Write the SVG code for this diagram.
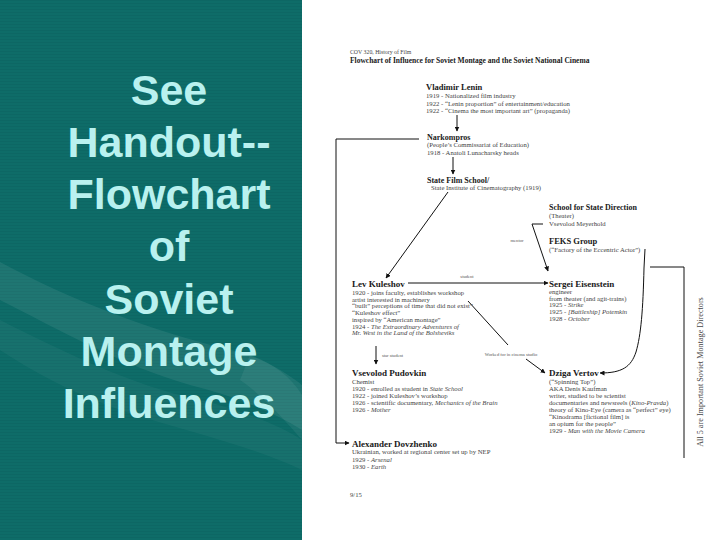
<svg xmlns="http://www.w3.org/2000/svg" width="720" height="540" viewBox="0 0 720 540">
<defs>
<pattern id="stripes" width="4" height="3" patternUnits="userSpaceOnUse">
<rect width="4" height="1" fill="#0a5f5b" opacity="0.35"/>
</pattern>
<marker id="ah" viewBox="0 0 10 10" refX="9" refY="5" markerWidth="5" markerHeight="5" orient="auto" markerUnits="userSpaceOnUse">
<path d="M0,0 L10,5 L0,10 z" fill="#111"/>
</marker>
<style>
.ttl{font-family:"Liberation Sans",Arial,sans-serif;font-weight:bold;font-size:43px;fill:#b9f1ef;text-anchor:middle}
.t{font-family:"Liberation Serif","Times New Roman",serif;font-size:6.7px;fill:#444}
.b{font-family:"Liberation Serif","Times New Roman",serif;font-weight:bold;fill:#1a1a1a}
.s{font-family:"Liberation Serif","Times New Roman",serif;font-size:4.6px;fill:#555}
.i{font-style:italic}
.ln{stroke:#111;stroke-width:1;fill:none}
</style>
</defs>
<rect x="0" y="0" width="720" height="540" fill="#ffffff"/>
<rect x="0" y="0" width="302" height="540" fill="#0e6c68"/>
<rect x="0" y="0" width="302" height="540" fill="url(#stripes)"/>
<path d="M0,262 C70,300 150,330 230,350 C260,356 285,372 302,385 L302,430 C270,410 230,395 190,385 C120,365 60,330 0,300 z" fill="#ffffff" opacity="0.07"/>
<path d="M250,355 C270,362 290,375 302,395 L302,440 C285,420 262,395 240,380 z" fill="#ffffff" opacity="0.06"/>
<path d="M0,320 C60,350 130,385 200,400 C240,410 280,425 302,440 L302,470 C250,445 180,430 120,410 C70,392 30,370 0,350 z" fill="#ffffff" opacity="0.04"/>
<g id="title">
<text class="ttl" x="169" y="104.5">See</text>
<text class="ttl" x="169" y="156.8">Handout--</text>
<text class="ttl" x="169" y="209.1">Flowchart</text>
<text class="ttl" x="169" y="261.4">of</text>
<text class="ttl" x="169" y="313.7">Soviet</text>
<text class="ttl" x="169" y="366">Montage</text>
<text class="ttl" x="169" y="418.3">Influences</text>
</g>
<g id="connectors">
<line class="ln" x1="457" y1="115" x2="457" y2="131" marker-end="url(#ah)"/>
<line class="ln" x1="453" y1="157" x2="453" y2="174" marker-end="url(#ah)"/>
<line class="ln" x1="448" y1="192" x2="386" y2="278" marker-end="url(#ah)"/>
<polyline class="ln" points="419,139 336,139 336,443 349,443" marker-end="url(#ah)"/>
<line class="ln" x1="408" y1="283" x2="548" y2="283" stroke-width="1.8" marker-end="url(#ah)"/>
<text class="s" x="467" y="277.5" text-anchor="middle">student</text>
<polyline class="ln" points="543,224 532,224 548,271" marker-end="url(#ah)"/>
<text class="s" x="517" y="242" text-anchor="middle">mentor</text>
<path class="ln" d="M645,249 L644,268 C643,310 641,335 636,352 C631,367 622,373 600,373" marker-end="url(#ah)"/>
<line class="ln" x1="468" y1="301" x2="508" y2="345"/>
<line class="ln" x1="526" y1="359" x2="545" y2="373" marker-end="url(#ah)"/>
<text class="s" x="511" y="355.5" text-anchor="middle">Worked for in cinema studio</text>
<line class="ln" x1="376" y1="346" x2="376" y2="364" marker-end="url(#ah)"/>
<text class="s" x="382" y="357">star student</text>
<polyline class="ln" points="650,267 684,267 684,458"/>
</g>
<g id="header">
<text class="t" x="350" y="54" style="font-size:5.8px">COV 320, History of Film</text>
<text class="b" x="350" y="63" style="font-size:7.5px">Flowchart of Influence for Soviet Montage and the Soviet National Cinema</text>
</g>
<g id="node-lenin">
<text class="b" x="426" y="90" style="font-size:8.5px">Vladimir Lenin</text>
<text class="t" x="426" y="98">1919 - Nationalized film industry</text>
<text class="t" x="426" y="105.5">1922 - “Lenin proportion” of entertainment/education</text>
<text class="t" x="426" y="113">1922 - “Cinema the most important art” (propaganda)</text>
</g>
<g id="node-narkompros">
<text class="b" x="427" y="139.5" style="font-size:8px">Narkompros</text>
<text class="t" x="427" y="147">(People’s Commissariat of Education)</text>
<text class="t" x="427" y="154.5">1918 - Anatoli Lunacharsky heads</text>
</g>
<g id="node-school">
<text class="b" x="427" y="182.5" style="font-size:8px">State Film School/</text>
<text class="t" x="431" y="189.5">State Institute of Cinematography (1919)</text>
</g>
<g id="node-direction">
<text class="b" x="549" y="209.5" style="font-size:8px">School for State Direction</text>
<text class="t" x="549" y="218">(Theater)</text>
<text class="t" x="549" y="225.5">Vsevolod Meyerhold</text>
</g>
<g id="node-feks">
<text class="b" x="549" y="244" style="font-size:8.5px">FEKS Group</text>
<text class="t" x="549" y="251.5">(“Factory of the Eccentric Actor”)</text>
</g>
<g id="node-kuleshov">
<text class="b" x="352" y="287" style="font-size:9px">Lev Kuleshov</text>
<text class="t" x="352" y="295">1920 - joins faculty, establishes workshop</text>
<text class="t" x="352" y="301.7">artist interested in machinery</text>
<text class="t" x="352" y="308.4">“built” perceptions of time that did not exist”</text>
<text class="t" x="352" y="315.1">“Kuleshov effect”</text>
<text class="t" x="352" y="321.8">inspired by “American montage”</text>
<text class="t" x="352" y="328.5">1924 - <tspan class="i">The Extraordinary Adventures of</tspan></text>
<text class="t i" x="352" y="335.2">Mr. West in the Land of the Bolsheviks</text>
</g>
<g id="node-eisenstein">
<text class="b" x="549" y="287" style="font-size:9px">Sergei Eisenstein</text>
<text class="t" x="549" y="294">engineer</text>
<text class="t" x="549" y="300.7">from theater (and agit-trains)</text>
<text class="t" x="549" y="307.4">1925 - <tspan class="i">Strike</tspan></text>
<text class="t" x="549" y="314.1">1925 - <tspan class="i">[Battleship] Potemkin</tspan></text>
<text class="t" x="549" y="320.8">1928 - <tspan class="i">October</tspan></text>
</g>
<g id="node-pudovkin">
<text class="b" x="352" y="376" style="font-size:9px">Vsevolod Pudovkin</text>
<text class="t" x="352" y="383.5">Chemist</text>
<text class="t" x="352" y="390.5">1920 - enrolled as student in <tspan class="i">State School</tspan></text>
<text class="t" x="352" y="397.5">1922 - joined Kuleshov’s workshop</text>
<text class="t" x="352" y="404.5">1926 - scientific documentary, <tspan class="i">Mechanics of the Brain</tspan></text>
<text class="t" x="352" y="411.5">1926 - <tspan class="i">Mother</tspan></text>
</g>
<g id="node-vertov">
<text class="b" x="549" y="376" style="font-size:9px">Dziga Vertov</text>
<text class="t" x="549" y="383.5">(“Spinning Top”)</text>
<text class="t" x="549" y="390.5">AKA Denis Kaufman</text>
<text class="t" x="549" y="397.5">writer, studied to be scientist</text>
<text class="t" x="549" y="404.5">documentaries and newsreels (<tspan class="i">Kino-Pravda</tspan>)</text>
<text class="t" x="549" y="411.5">theory of Kino-Eye (camera as “perfect” eye)</text>
<text class="t" x="549" y="418.5">“Kinodrama [fictional film] is</text>
<text class="t" x="549" y="425.5">an opium for the people”</text>
<text class="t" x="549" y="432.5">1929 - <tspan class="i">Man with the Movie Camera</tspan></text>
</g>
<g id="node-dovzhenko">
<text class="b" x="352" y="446.5" style="font-size:9px">Alexander Dovzhenko</text>
<text class="t" x="352" y="454">Ukrainian, worked at regional center set up by NEP</text>
<text class="t" x="352" y="461.5">1929 - <tspan class="i">Arsenal</tspan></text>
<text class="t" x="352" y="469">1930 - <tspan class="i">Earth</tspan></text>
</g>
<text class="t" x="350" y="497">9/15</text>
<text class="t" transform="translate(703,372) rotate(-90)" text-anchor="middle" style="font-size:8.2px">All 5 are Important Soviet Montage Directors</text>
</svg>
